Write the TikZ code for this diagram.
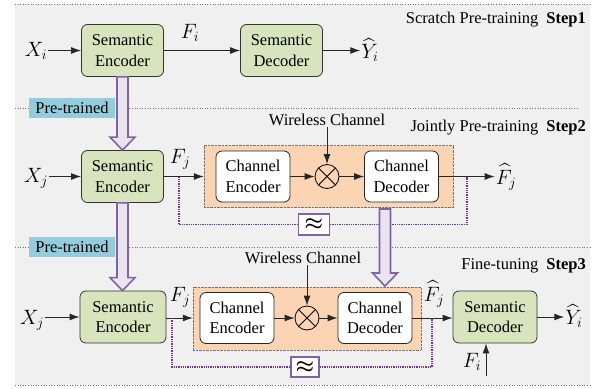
\documentclass[tikz,border=0pt]{standalone}
\usepackage{fontspec}
\setmainfont{Liberation Serif}
\usepackage{amsmath}
\usepackage{xcolor}
\usepackage {tikz}
\usetikzlibrary {positioning}
\usetikzlibrary{arrows.meta}
\usetikzlibrary{calc}

\definecolor{bggray}{HTML}{F0F0F0}
\definecolor{semgreen}{HTML}{D7E4BD}
\definecolor{chanorange}{HTML}{FBD4B4}
\definecolor{pretraincyan}{HTML}{93CDDD}
\definecolor{fatpurple}{HTML}{8064A2}
\definecolor{fatfill}{HTML}{EAE4F0}
\definecolor{fbpurple}{HTML}{7030A0}

\newcommand{\boxfont}{\fontsize{16.5}{20.5}\selectfont}
\newcommand{\mathlabel}{\fontsize{21}{24}\selectfont}

% hollow purple arrow from #1 down to #2
\newcommand{\fatarrow}[2]{%
  \draw[fatarrow] ($(#1)+(-5.5,0)$) -- ($(#2)+(-5.5,-13)$) -- ($(#2)+(-12.5,-13)$) -- (#2)
     -- ($(#2)+(12.5,-13)$) -- ($(#2)+(5.5,-13)$) -- ($(#1)+(5.5,0)$) -- cycle;}

\tikzset{
  semantic/.style={draw=black!80,fill=semgreen,thick,rounded corners=6pt,
     minimum width=82pt,minimum height=52pt,align=center,font=\boxfont,inner sep=1pt},
  channel/.style={draw=black!85,fill=white,thick,rounded corners=6pt,
     minimum width=74pt,minimum height=51pt,align=center,font=\boxfont,inner sep=1pt},
  chanbg/.style={draw=black!55,densely dotted,fill=chanorange,inner sep=0pt},
  mixer/.style={circle,draw,thick,minimum size=24pt,inner sep=0pt,
     path picture={\draw[thick] (path picture bounding box.north west) -- (path picture bounding box.south east)
                   (path picture bounding box.north east) -- (path picture bounding box.south west);}},
  pretrained/.style={fill=pretraincyan,font=\boxfont,inner sep=2pt,minimum height=20pt,minimum width=86pt},
  approx/.style={draw=fatpurple,line width=1.3pt,fill=white,minimum width=31pt,minimum height=21pt,inner sep=0pt,
     font=\fontsize{22}{22}\selectfont\boldmath},
  steptext/.style={font=\boxfont,anchor=east,inner sep=0pt},
  fatarrow/.style={draw=fatpurple,line width=1.6pt,fill=fatfill,line join=miter},
  flow/.style={->,line width=1pt,black!85},
  fb/.style={fbpurple,densely dotted,line width=1.3pt},
  mlabel/.style={inner sep=1pt,font=\mathlabel},
  sepline/.style={black!55,dotted,line width=0.6pt}
}

\begin{document}
\begin{tikzpicture}[x=1pt,y=-1pt,>={Latex[length=10pt,width=7pt]}]
\useasboundingbox (0,0) rectangle (602,388);
\fill[bggray] (15,4) rectangle (590,385);

% separators
\draw[sepline] (15,4) -- (590,4);
\draw[sepline] (15,108) -- (579,108);
\draw[sepline] (15,247) -- (590,247);
\draw[sepline] (15,385) -- (590,385);

% Step1
\node[steptext] (s1) at (586,20) {Scratch Pre-training\hspace{8pt}\textbf{Step1}};
\node[mlabel] (xi1) at (36,50.5) {$X_i$};
\node[semantic] (enc1) at (122.5,50.5) {Semantic\\Encoder};
\node[semantic] (dec1) at (281.5,50.5) {Semantic\\Decoder};
\node[mlabel] (yhat1) at (370,50) {$\widehat{Y}_i$};
\node[mlabel] (fi1) at (190,33) {$F_i$};
\draw[flow] (xi1) -- (enc1);
\draw[flow] (enc1) -- (dec1);
\draw[flow] (dec1) -- (yhat1.west |- dec1);

% Step2
\node[steptext] (s2) at (586,128) {Jointly Pre-training\hspace{8pt}\textbf{Step2}};
\node[mlabel] (xj2) at (36,178) {$X_j$};
\node[semantic] (enc2) at (122.5,176.5) {Semantic\\Encoder};
\node[chanbg,minimum width=249pt,minimum height=62pt] (ob2) at (328.5,176.5) {};
\node[channel] (cenc2) at (253,176.5) {Channel\\Encoder};
\node[mixer] (mix2) at (327,176.5) {};
\node[channel] (cdec2) at (401.5,176.5) {Channel\\Decoder};
\node[font=\boxfont,inner sep=1pt] (wc2) at (327,120) {Wireless Channel};
\node[mlabel] (fhat2) at (506,177) {$\widehat{F}_j$};
\node[mlabel] (fj2) at (180,159) {$F_j$};
\draw[flow] (xj2.east |- enc2) -- (enc2);
\draw[flow] (enc2) -- (ob2);
\draw[flow] (cenc2) -- (mix2);
\draw[flow] (mix2) -- (cdec2);
\draw[flow] (wc2.south -| mix2) -- (mix2);
\draw[flow] (cdec2) -- (fhat2.west |- cdec2);
\coordinate (fb2s) at (179,176.5);
\coordinate (fb2e) at (467,176.5);
\node[approx] (ap2) at (314,224.5) {$\approx$};
\draw[fb] (fb2s) |- (ap2.west);
\draw[fb] (ap2.east) -| (fb2e);

% Step3
\node[steptext] (s3) at (586,266) {Fine-tuning\hspace{8pt}\textbf{Step3}};
\node[mlabel] (xj3) at (32,320) {$X_j$};
\node[semantic,minimum width=86pt] (enc3) at (123,317) {Semantic\\Encoder};
\node[chanbg,minimum width=228pt,minimum height=63pt] (ob3) at (307,318.5) {};
\node[channel] (cenc3) at (237,318) {Channel\\Encoder};
\node[mixer] (mix3) at (307,318) {};
\node[channel] (cdec3) at (375,318) {Channel\\Decoder};
\node[font=\boxfont,inner sep=1pt] (wc3) at (303,258) {Wireless Channel};
\node[semantic,minimum width=84pt] (sdec3) at (495,317) {Semantic\\Decoder};
\node[mlabel] (yhat3) at (574,316) {$\widehat{Y}_i$};
\node[mlabel] (fj3) at (180,297) {$F_j$};
\node[mlabel] (fhat3) at (434,294) {$\widehat{F}_j$};
\node[mlabel] (fi3) at (472,362) {$F_i$};
\draw[flow] (xj3.east |- enc3) -- (enc3);
\draw[flow] (enc3.east |- cenc3) -- (ob3.west |- cenc3);
\draw[flow] (cenc3) -- (mix3);
\draw[flow] (mix3) -- (cdec3);
\draw[flow] (wc3.south -| mix3) -- (mix3);
\draw[flow] (cdec3.east) -- (sdec3.west |- cdec3);
\draw[flow] (sdec3.east) -- (yhat3.west |- sdec3);
\coordinate (fiin) at (486,376);
\draw[flow] (fiin) -- (fiin |- sdec3.south);
\coordinate (fb3s) at (172,318);
\coordinate (fb3e) at (432,318);
\node[approx,minimum width=28pt,minimum height=20pt] (ap3) at (305,367) {$\approx$};
\draw[fb] (fb3s) |- (ap3.west);
\draw[fb] (ap3.east) -| (fb3e);

% pre-trained labels and hollow arrows
\node[pretrained] (pt1) at (72,108) {Pre-trained};
\node[pretrained] (pt2) at (72,247) {Pre-trained};
\coordinate (a1e) at (enc1.south |- enc2.north);
\fatarrow{enc1.south}{a1e}
\coordinate (a3e) at (enc2.south |- enc3.north);
\fatarrow{enc2.south}{a3e}
\coordinate (a2s) at (385,209);
\coordinate (a2e) at (385,286);
\fatarrow{a2s}{a2e}
\end{tikzpicture}
\end{document}
